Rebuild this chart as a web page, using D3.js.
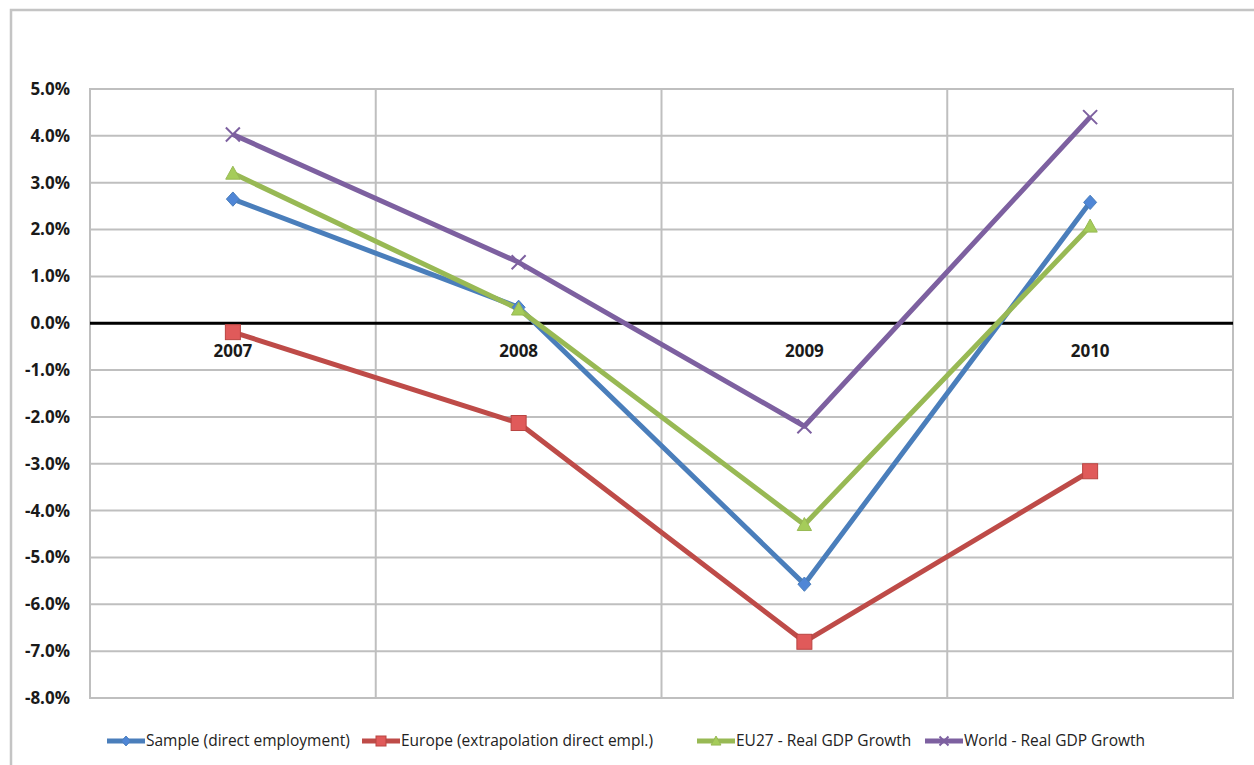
<!DOCTYPE html>
<html><head><meta charset="utf-8">
<script src="https://cdn.jsdelivr.net/npm/d3@7"></script>
<style>body{margin:0;background:#fff;}svg{display:block;}</style>
</head><body>
<svg id="c" width="1254" height="765"></svg>
<script>
const years = ["2007","2008","2009","2010"];
const sample = [2.65, 0.34, -5.57, 2.58];
const europe = [-0.19, -2.13, -6.80, -3.16];
const eu27 = [3.20, 0.30, -4.30, 2.07];
const world = [4.03, 1.30, -2.20, 4.40];
const yTicks = [5,4,3,2,1,0,-1,-2,-3,-4,-5,-6,-7,-8];
const seriesNames = ["Sample (direct employment)","Europe (extrapolation direct empl.)","EU27 - Real GDP Growth","World - Real GDP Growth"];

const series = [
  {name: seriesNames[0], values: sample, color:"#4a7ebb", fill:"#4f86d6", marker:"diamond"},
  {name: seriesNames[1], values: europe, color:"#be4b48", fill:"#e05a5a", marker:"square"},
  {name: seriesNames[2], values: eu27, color:"#98b954", fill:"#a5cc5a", marker:"triangle"},
  {name: seriesNames[3], values: world, color:"#7d60a0", fill:"#7d60a0", marker:"x"}
];

const svg = d3.select("#c");
const L = 90, R = 1233, T = 89, B = 698;
const x = d3.scaleBand().domain(years).range([L, R]);
const y = d3.scaleLinear().domain([-8, 5]).range([B, T]);
const FONT = "'Open Sans', sans-serif";

// outer frame
svg.append("path").attr("d", `M11,765 V10 H1254`).attr("fill","none").attr("stroke","#c4c4c4").attr("stroke-width",2.5);

// horizontal gridlines
svg.append("g").selectAll("line").data(yTicks).join("line")
  .attr("x1", L).attr("x2", R).attr("y1", d => y(d)).attr("y2", d => y(d))
  .attr("stroke","#bfbfbf").attr("stroke-width",2);
// vertical gridlines at category boundaries
const bounds = years.slice(1).map(d => x(d));
svg.append("g").selectAll("line").data(bounds).join("line")
  .attr("x1", d => d).attr("x2", d => d).attr("y1", T).attr("y2", B)
  .attr("stroke","#bfbfbf").attr("stroke-width",2);
// plot border
svg.append("rect").attr("x",L).attr("y",T).attr("width",R-L).attr("height",B-T)
  .attr("fill","none").attr("stroke","#bfbfbf").attr("stroke-width",2);
// zero line
svg.append("line").attr("x1",L).attr("x2",R).attr("y1",y(0)).attr("y2",y(0))
  .attr("stroke","#000").attr("stroke-width",3);

// y axis labels
const yAxis = d3.axisLeft(y).tickValues(yTicks)
  .tickFormat(d => (d < 0 ? "-" : "") + Math.abs(d).toFixed(1) + "%").tickSize(0).tickPadding(20);
const gy = svg.append("g").attr("transform",`translate(${L},0)`).call(yAxis);
gy.select(".domain").remove();
gy.selectAll("text").attr("font-family",FONT).attr("font-weight","bold")
  .attr("font-size",17).attr("fill","#1a1a1a");

// category labels
const xAxis = d3.axisBottom(x).tickSize(0).tickPadding(22);
const gx = svg.append("g").attr("transform",`translate(0,${y(0)})`).call(xAxis);
gx.select(".domain").remove();
gx.selectAll("text").attr("font-family",FONT).attr("font-weight","bold")
  .attr("font-size",17).attr("fill","#1a1a1a");

function drawMarker(g, type, s, color, fill){
  if(type==="diamond"){
    g.append("path").attr("d",`M0,${-s*0.55}L${s*0.5},0L0,${s*0.55}L${-s*0.5},0Z`).attr("fill",fill).attr("stroke",color).attr("stroke-width",1);
  } else if(type==="square"){
    g.append("rect").attr("x",-s/2).attr("y",-s/2).attr("width",s).attr("height",s).attr("fill",fill).attr("stroke","#b94441").attr("stroke-width",1);
  } else if(type==="triangle"){
    g.append("path").attr("d",`M0,${-s*0.55}L${s*0.55},${s*0.45}L${-s*0.55},${s*0.45}Z`).attr("fill",fill).attr("stroke",color).attr("stroke-width",1);
  } else {
    const h = s*0.5;
    g.append("path").attr("d",`M${-h},${-h}L${h},${h}M${-h},${h}L${h},${-h}`).attr("stroke",fill).attr("stroke-width",2);
  }
}

const line = d3.line().x((d,i) => x(years[i]) + x.bandwidth()/2).y(d => y(d));
series.forEach(s => {
  svg.append("path").datum(s.values).attr("d", line).attr("fill","none")
    .attr("stroke", s.color).attr("stroke-width",5).attr("stroke-linejoin","round");
});
series.forEach(s => {
  s.values.forEach((v,i) => {
    const g = svg.append("g").attr("transform",`translate(${x(years[i]) + x.bandwidth()/2},${y(v)})`);
    drawMarker(g, s.marker, s.marker==="square"?15:(s.marker==="x"?14:13), s.color, s.fill);
  });
});

// legend
const legX = [107, 362, 697, 925];
const legY = 741;
series.forEach((s,i) => {
  const g = svg.append("g").attr("transform",`translate(${legX[i]},${legY})`);
  g.append("line").attr("x1",0).attr("x2",38).attr("y1",0).attr("y2",0).attr("stroke",s.color).attr("stroke-width",5);
  const m = g.append("g").attr("transform","translate(19,0)");
  drawMarker(m, s.marker, s.marker==="square"?10:9, s.color, s.fill);
  g.append("text").attr("x",39).attr("y",0).attr("dy","0.35em").text(s.name)
    .attr("font-family",FONT).attr("font-size",15.5).attr("fill","#222");
});
</script>
</body></html>
